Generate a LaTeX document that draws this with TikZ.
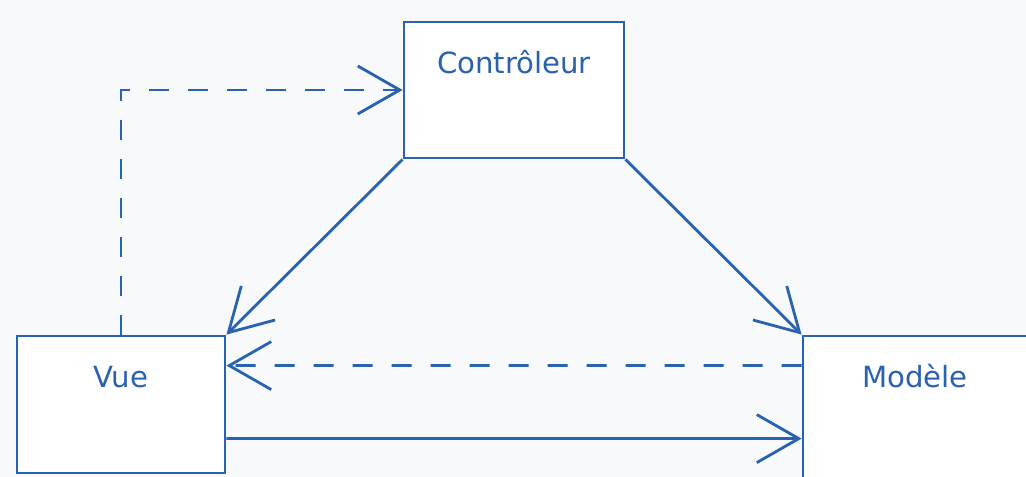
\documentclass[tikz,border=0pt]{standalone}
\usepackage{fontspec}
\setmainfont{DejaVu Sans}
\usetikzlibrary{arrows.meta}

\definecolor{mvcblue}{RGB}{41,98,175}
\definecolor{mvcbg}{RGB}{248,249,251}

\tikzset{
    box/.style={draw=mvcblue, fill=white, line width=0.8pt, inner sep=0pt},
    lbl/.style={anchor=base, yshift=-0.53cm, text=mvcblue, font=\fontsize{8.3}{10}\selectfont},
    link/.style={draw=mvcblue, line width=0.8pt, -{Straight Barb[length=4.2mm, width=4.8mm]}},
    dashlink/.style={link, dash pattern=on 0.2cm off 0.19cm}
}

\begin{document}
\begin{tikzpicture}
        \useasboundingbox (0,0) rectangle (10.26,4.77);
        \clip (0,0) rectangle (10.26,4.77);
        \fill[mvcbg] (0,0) rectangle (10.26,4.77);

        % les trois composants
        \node[box, minimum width=2.20cm, minimum height=1.36cm, label={[lbl]north:Contrôleur}] (ctrl) at (5.14, 3.87) {};
        \node[box, minimum width=2.08cm, minimum height=1.37cm, label={[lbl]north:Vue}] (vue) at (1.21, 0.725) {};
        \node[box, minimum width=2.24cm, minimum height=1.64cm, label={[lbl]north:Modèle}] (mod) at (9.15, 0.59) {};

        % liens
        \draw[link] (ctrl.south west) -- (vue.north east);
        \draw[link] (ctrl.south east) -- (mod.north west);
        \draw[dashlink] (vue.north) |- (ctrl.west);
        \draw[dashlink] ([yshift=-0.31cm]mod.north west) -- ([yshift=-0.31cm]vue.north east);
        \draw[link] ([yshift=-1.04cm]vue.north east) -- ([yshift=-1.04cm]mod.north west);

    \end{tikzpicture}
\end{document}
